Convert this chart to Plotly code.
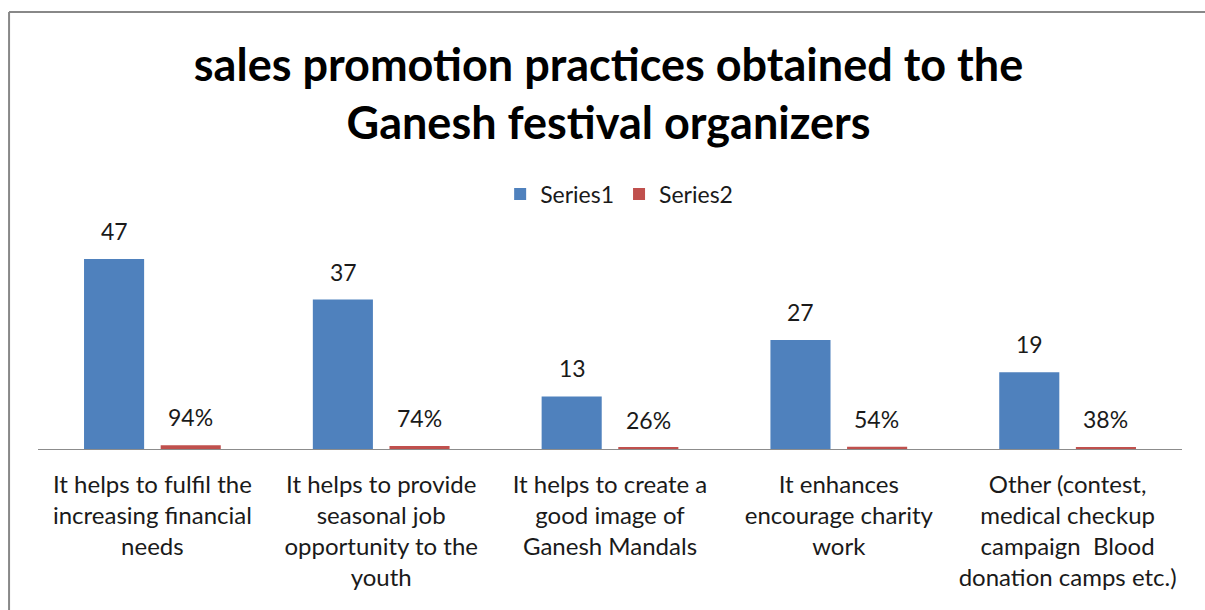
import plotly.graph_objects as go

categories = [
    "It helps to fulfil the<br>increasing financial<br>needs",
    "It helps to provide<br>seasonal job<br>opportunity to the<br>youth",
    "It helps to create a<br>good image of<br>Ganesh Mandals",
    "It enhances<br>encourage charity<br>work",
    "Other (contest,<br>medical checkup<br>campaign  Blood<br>donation camps etc.)",
]
series1 = [47, 37, 13, 27, 19]
series2 = [0.94, 0.74, 0.26, 0.54, 0.38]
series1_labels = ["47", "37", "13", "27", "19"]
series2_labels = ["94%", "74%", "26%", "54%", "38%"]

FONT = "Lato"
BLUE = "#4F81BD"
RED = "#C0504D"
x = list(range(len(categories)))

fig = go.Figure()
fig.add_bar(x=x, y=series1, name="Series1", marker=dict(color=BLUE, line=dict(width=0)))
fig.add_bar(x=x, y=series2, name="Series2", marker=dict(color=RED, line=dict(width=0)))

annotations = []
for i in x:
    annotations.append(dict(x=i, y=series1[i], xref="x", yref="y", text=series1_labels[i],
                            showarrow=False, xshift=-38, yshift=12, yanchor="bottom",
                            font=dict(family=FONT, size=23, color="#1a1a1a")))
    annotations.append(dict(x=i, y=series2[i], xref="x", yref="y", text=series2_labels[i],
                            showarrow=False, xshift=38, yshift=12, yanchor="bottom",
                            font=dict(family=FONT, size=23, color="#1a1a1a")))

border = dict(color="#888888", width=2)
fig.update_layout(
    width=1205, height=610,
    paper_bgcolor="white", plot_bgcolor="white",
    margin=dict(l=38, r=23, t=247, b=161),
    barmode="group", bargap=0.33, bargroupgap=0.216,
    title=dict(text="<b>sales promotion practices obtained to the<br>Ganesh festival organizers</b>",
               x=0.505, xanchor="center", y=0.868, yanchor="middle",
               font=dict(family=FONT, size=45, color="black")),
    legend=dict(orientation="h", x=0.508, xanchor="center", y=1.262, yanchor="middle",
                font=dict(family=FONT, size=23, color="#1a1a1a"),
                itemwidth=30, traceorder="normal"),
    xaxis=dict(tickmode="array", tickvals=x, ticktext=categories, showline=True,
               linecolor="#8c8c8c", linewidth=1, ticks="", showgrid=False,
               ticklabelstandoff=14,
               range=[-0.5, 4.5], tickfont=dict(family=FONT, size=24, color="#1a1a1a")),
    yaxis=dict(range=[0, 50], visible=False, showgrid=False),
    annotations=annotations,
    shapes=[
        dict(type="line", xref="paper", yref="paper", x0=-0.0253, x1=1.2, y0=2.163, y1=2.163,
             line=border, layer="above"),
        dict(type="line", xref="paper", yref="paper", x0=-0.0253, x1=-0.0253, y0=2.163, y1=-0.9,
             line=border, layer="above"),
    ],
)
fig.write_html("out.html")
